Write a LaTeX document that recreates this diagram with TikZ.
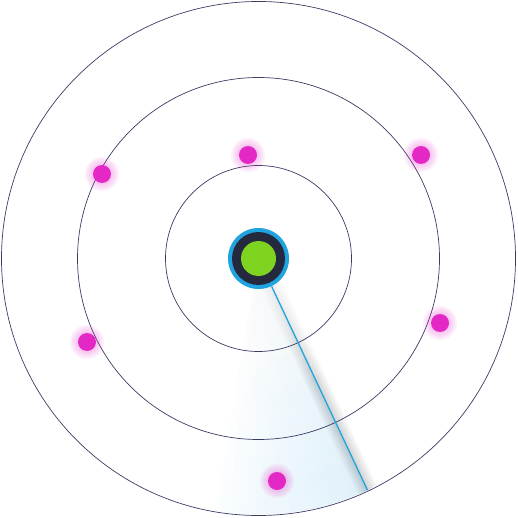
\documentclass[tikz,border=0pt]{standalone}
\usetikzlibrary{positioning,calc}

\definecolor{ringline}{RGB}{58,60,98}
\definecolor{blip}{RGB}{228,40,198}
\definecolor{sweepblue}{RGB}{32,164,224}
\definecolor{sweeptint}{RGB}{190,225,245}
\definecolor{hubdark}{RGB}{37,41,62}
\definecolor{hubgreen}{RGB}{126,211,33}

\tikzset{every picture/.style={line width=0.75pt}}
\tikzset{
  ring/.style={draw=ringline, line width=0.7pt},
  blipdot/.style={circle, fill=blip, minimum size=18pt, inner sep=0pt},
  glow/.style={fill=blip, opacity=0.07},
}

\begin{document}
\begin{tikzpicture}[x=1pt,y=1pt,yscale=-1,xscale=1]
\useasboundingbox (0,0) rectangle (517,518);

%centre of the scope
\coordinate (origin) at (258.5,258.5);

%Sweep sector, fading away from the beam
\begin{scope}
  \clip (origin) -- ($(origin)+(64.8:256)$) arc [start angle=64.8, end angle=100, radius=256] -- cycle;
  \foreach \a in {2,4,...,36}
    \fill [sweeptint, opacity=0.035] (origin) -- ($(origin)+(64.8:256)$) arc [start angle=64.8, end angle=64.8+\a, radius=256] -- cycle;
  %fade towards the centre
  \foreach \r in {220,200,...,20}
    \fill [white, opacity=0.09] (origin) circle (\r);
\end{scope}

%Shadow on the leading side of the beam
\begin{scope}
  \clip (origin) circle (256);
  \foreach \w in {2,4,...,22}
    \draw [black, opacity=0.016, line width=\w pt, line cap=butt, shift={(-25.2:\w/2)}] ($(origin)+(64.8:25)$) -- ($(origin)+(64.8:258)$);
  \foreach \r in {130,120,...,30}
    \fill [white, opacity=0.1] (origin) circle (\r);
\end{scope}

%Range rings
\draw [ring] (origin) circle (257);
\draw [ring] (origin) circle (181);
\draw [ring] (origin) circle (93);

%Blips
\foreach \p [count=\i] in {(102,174),(248,155),(421,155),(87,342),(440,323),(277,481)}{
  \foreach \r in {17,15,13,11}
    \fill [glow] \p circle (\r);
  \node [blipdot] (blip\i) at \p {};
}

%Hub
\node [circle, fill=sweepblue, minimum size=61pt, inner sep=0pt] (hub) at (origin) {};
\node [circle, fill=hubdark, minimum size=53pt, inner sep=0pt] (hubcore) at (origin) {};
\node [circle, fill=hubgreen, minimum size=35pt, inner sep=0pt] (hubdot) at (origin) {};

%Beam
\coordinate (beamend) at ($(origin)+(64.8:256)$);
\draw [sweepblue, line width=1.3pt] (hub) -- (beamend);

\end{tikzpicture}
\end{document}
